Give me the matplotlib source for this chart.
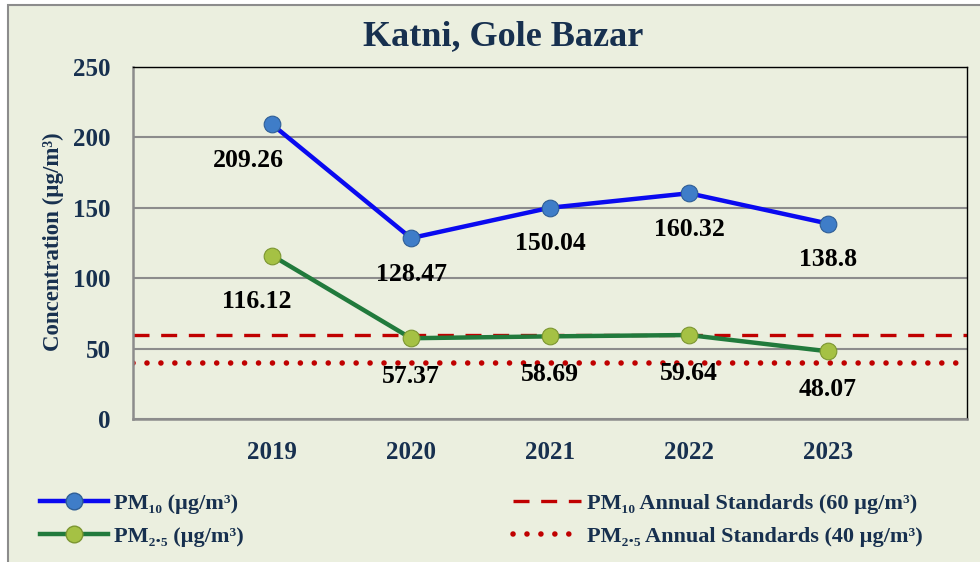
import matplotlib
matplotlib.use("Agg")
import matplotlib.pyplot as plt
from matplotlib.lines import Line2D
from matplotlib.patches import Rectangle

plt.rcParams["font.family"] = ["Liberation Serif", "DejaVu Serif"]
plt.rcParams["font.weight"] = "bold"

# data
years = ["2019", "2020", "2021", "2022", "2023"]
pm10 = [209.26, 128.47, 150.04, 160.32, 138.8]
pm25 = [116.12, 57.37, 58.69, 59.64, 48.07]
pm10_labels = ["209.26", "128.47", "150.04", "160.32", "138.8"]
pm25_labels = ["116.12", "57.37", "58.69", "59.64", "48.07"]
std_pm10 = 60
std_pm25 = 40

BG = "#EBEFDF"
NAVY = "#17304F"
DASH = (0, (4.8, 3.5))
DOT = (0, (0.01, 2.5))

fig = plt.figure(figsize=(9.8, 5.62), dpi=100, facecolor="white")
# outer chart frame
fig.patches.append(Rectangle((8 / 980, -0.05), 1.1, 1.05 - 5 / 562, transform=fig.transFigure,
                             facecolor=BG, edgecolor="#8C8C8C", linewidth=1.5, zorder=-10))

ax = fig.add_axes([133 / 980, 1 - 419 / 562, 834 / 980, 352 / 562])
ax.set_facecolor(BG)
x = list(range(1, len(years) + 1))

ax.axhline(std_pm10, color="#C00000", lw=2.4, ls=DASH, zorder=2)
ax.axhline(std_pm25, color="#C00000", lw=4, ls=DOT, dash_capstyle="round", zorder=2)

ax.plot(x, pm10, color="#0A0AF0", lw=3.2, marker="o", ms=12, mfc="#3F7DC8", mec="#2F5E96",
        mew=0.8, zorder=4)
ax.plot(x, pm25, color="#217A3C", lw=3.2, marker="o", ms=12, mfc="#A5C144", mec="#7C9631",
        mew=0.8, zorder=4)

# data labels below the points
for i, (v, t) in enumerate(zip(pm10, pm10_labels)):
    dx = -24 if i == 0 else 0
    ax.annotate(t, (x[i], v), xytext=(dx, -36), textcoords="offset pixels",
                ha="center", va="center", fontsize=18.5, fontweight="bold", color="black", zorder=5)
for i, (v, t) in enumerate(zip(pm25, pm25_labels)):
    dx = -15 if i == 0 else 0
    dy = -46 if i == 0 else -38
    ax.annotate(t, (x[i], v), xytext=(dx, dy), textcoords="offset pixels",
                ha="center", va="center", fontsize=18.5, fontweight="bold", color="black", zorder=5)

ax.set_xlim(0, 6)
ax.set_ylim(0, 250)
ax.set_xticks(x)
ax.set_xticklabels(years)
ax.set_yticks(range(0, 251, 50))
ax.tick_params(length=0, labelsize=18, labelcolor=NAVY)
ax.tick_params(axis="y", pad=16)
ax.tick_params(axis="x", pad=16)
for lab in ax.get_xticklabels() + ax.get_yticklabels():
    lab.set_fontweight("bold")
ax.yaxis.grid(True, color="#8C8C8C", lw=1.5)
ax.set_axisbelow(True)
for s in ["top", "right"]:
    ax.spines[s].set_color("black")
    ax.spines[s].set_linewidth(1)
for s in ["left", "bottom"]:
    ax.spines[s].set_color("#8C8C8C")
    ax.spines[s].set_linewidth(1.8)

fig.text(53 / 980, 1 - 242 / 562, "Concentration (µg/m³)", rotation=90, ha="center", va="center",
         fontsize=16.5, fontweight="bold", color=NAVY)
fig.text(503 / 980, 1 - 37 / 562, "Katni, Gole Bazar", ha="center", va="center",
         fontsize=26, fontweight="bold", color=NAVY)

# legends
h1 = [Line2D([], [], color="#0A0AF0", lw=3.2, marker="o", ms=12, mfc="#3F7DC8", mec="#2F5E96"),
      Line2D([], [], color="#217A3C", lw=3.2, marker="o", ms=12, mfc="#A5C144", mec="#7C9631")]
l1 = ["PM₁₀ (µg/m³)", "PM₂.₅ (µg/m³)"]
h2 = [Line2D([], [], color="#C00000", lw=2.4, ls=DASH),
      Line2D([], [], color="#C00000", lw=4, ls=DOT, dash_capstyle="round")]
l2 = ["PM₁₀ Annual Standards (60 µg/m³)", "PM₂.₅ Annual Standards (40 µg/m³)"]
lp = dict(frameon=False, labelspacing=0.56, prop={"size": 16, "weight": "bold"},
          labelcolor=NAVY, borderaxespad=0, borderpad=0, handlelength=3.05, handletextpad=0.3)
leg1 = fig.legend(h1, l1, loc="center left", bbox_to_anchor=(40 / 980, 1 - 520 / 562), **lp)
leg2 = fig.legend(h2, l2, loc="center left", bbox_to_anchor=(513 / 980, 1 - 520 / 562), **lp)

fig.savefig("out.png", dpi=100, facecolor="white")
